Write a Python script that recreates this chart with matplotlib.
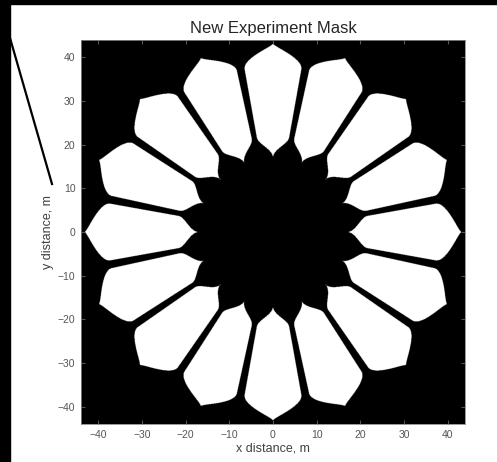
import numpy as np
import matplotlib.pyplot as plt
from matplotlib.lines import Line2D
from matplotlib.patches import Rectangle

plt.rcParams['font.family'] = ['Liberation Sans', 'DejaVu Sans']

# mask geometry (metres)
n_petals = 16
r_inner = 17.0      # inner petal tip
r_neck = 22.0       # where black lobes become thin gaps
r_shoulder = 37.9   # petal shoulder
r_tip = 43.2        # outer petal tip
gap_half = [0.6, 0.9]   # half width of black gap at r_neck, r_shoulder
half_extent = 44.0

ticks = [-40, -30, -20, -10, 0, 10, 20, 30, 40]

# grid
x = np.linspace(-half_extent, half_extent, 1100)
X, Y = np.meshgrid(x, x)
R = np.hypot(X, Y)
PHI = np.arctan2(Y, X)
period = 2 * np.pi / n_petals
d = np.abs(np.mod(PHI + period / 2, period) - period / 2)


def full_frac(r):
    g = np.interp(r, [r_neck, r_shoulder], gap_half)
    return 1 - (g / np.maximum(r, 1e-6)) / (period / 2)


frac = np.zeros_like(R)
m = (R >= r_inner) & (R < r_neck)
t = (R[m] - r_inner) / (r_neck - r_inner)
frac[m] = full_frac(r_neck) * (1 - np.cos(np.pi * t)) / 2
m = (R >= r_neck) & (R < r_shoulder)
frac[m] = full_frac(R[m])
m = (R >= r_shoulder) & (R < r_tip)
t = (R[m] - r_shoulder) / (r_tip - r_shoulder)
frac[m] = full_frac(r_shoulder) * np.cos(np.pi * t / 2) ** 1.3

mask = (d < frac * period / 2).astype(float)

fig = plt.figure(figsize=(4.97, 4.62), dpi=100)
ax = fig.add_axes([81 / 497, 38 / 462, 384 / 497, 384 / 462])
ax.imshow(mask, cmap='gray', origin='lower', vmin=0, vmax=1,
          extent=[-half_extent, half_extent, -half_extent, half_extent],
          interpolation='antialiased')

ax.set_xticks(ticks)
ax.set_yticks(ticks)
ax.tick_params(direction='in', length=3, labelsize=7.5, colors='#555555',
               top=True, right=True, pad=4)
for s in ax.spines.values():
    s.set_color('#888888')
    s.set_linewidth(0.6)
ax.set_title('New Experiment Mask', fontsize=12, color='#262626', pad=5)
ax.set_xlabel('x distance, m', fontsize=9, color='#404040', labelpad=2)
ax.set_ylabel('y distance, m', fontsize=9, color='#404040', labelpad=3)

# screenshot borders and stray line
fig.patches.append(Rectangle((0, 0), 10 / 497, 1, transform=fig.transFigure,
                             color='black', zorder=10))
fig.patches.append(Rectangle((0, 1 - 4 / 462), 1, 4 / 462,
                             transform=fig.transFigure, color='black', zorder=10))
fig.lines.append(Line2D([10 / 497, 52 / 497], [1 - 38 / 462, 1 - 184 / 462],
                        transform=fig.transFigure, color='black', lw=1.6))

fig.savefig('out.png', dpi=100)
